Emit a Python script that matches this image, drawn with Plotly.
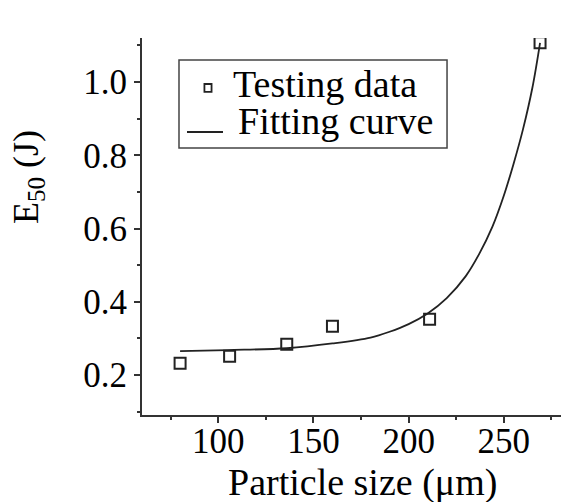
import plotly.graph_objects as go

# Testing data
size_um = [80, 106, 136, 160, 211, 269]
e50_j = [0.232, 0.251, 0.284, 0.333, 0.352, 1.107]

# Fitting curve points
fit_x = [80, 105, 136, 160, 180, 190, 200, 210, 220, 230, 237, 244, 250, 255, 260, 265, 269]
fit_y = [0.265, 0.268, 0.273, 0.286, 0.302, 0.318, 0.339, 0.368, 0.410, 0.470, 0.530, 0.605, 0.690, 0.775, 0.870, 0.985, 1.107]

x_ticks = [100, 150, 200, 250]
y_ticks = [0.2, 0.4, 0.6, 0.8, 1.0]

FONT = "Liberation Serif, Times New Roman, serif"
INK = "#222222"

fig = go.Figure()
fig.add_trace(go.Scatter(
    x=fit_x, y=fit_y, mode="lines", name="Fitting curve",
    line=dict(color=INK, width=1.8, shape="spline", smoothing=1.0),
))
fig.add_trace(go.Scatter(
    x=size_um, y=e50_j, mode="markers", name="Testing data",
    marker=dict(symbol="square-open", size=11, color=INK, line=dict(width=2, color=INK)),
))

# manual legend (box, symbols, labels) in paper coordinates
shapes = [
    dict(type="rect", xref="paper", yref="paper", x0=0.0883, x1=0.728, y0=0.708, y1=0.9416,
         line=dict(color="#444444", width=1.5), fillcolor="white", layer="below"),
    dict(type="rect", xref="paper", yref="paper", x0=0.149, x1=0.166, y0=0.857, y1=0.878,
         line=dict(color=INK, width=1.8)),
    dict(type="line", xref="paper", yref="paper", x0=0.1074, x1=0.1933, y0=0.7507, y1=0.7507,
         line=dict(color=INK, width=1.8)),
]

fig.update_layout(
    width=561, height=502,
    margin=dict(l=142, r=0, t=38, b=87),
    plot_bgcolor="white", paper_bgcolor="white",
    font=dict(family=FONT, size=35, color="black"),
    showlegend=False,
    shapes=shapes,
    xaxis=dict(
        range=[60, 280], tickvals=x_ticks, ticktext=[str(v) for v in x_ticks],
        showgrid=False, zeroline=False, showline=True, linecolor="#333333", linewidth=2,
        ticks="outside", ticklen=6, tickwidth=1.5, tickcolor="#333333",
        minor=dict(tickvals=[75, 125, 175, 225, 275], ticks="outside", ticklen=3, tickwidth=1.5, tickcolor="#333333"),
        tickfont=dict(family=FONT, size=35, color="black"),
        ticklabelstandoff=-12,
    ),
    yaxis=dict(
        range=[0.0907, 1.1202], tickvals=y_ticks, ticktext=[f"{v:.1f}" for v in y_ticks],
        showgrid=False, zeroline=False, showline=True, linecolor="#333333", linewidth=2,
        ticks="outside", ticklen=6, tickwidth=1.5, tickcolor="#333333",
        minor=dict(tickvals=[0.1, 0.3, 0.5, 0.7, 0.9, 1.1], ticks="outside", ticklen=3, tickwidth=1.5, tickcolor="#333333"),
        tickfont=dict(family=FONT, size=35, color="black"),
    ),
    annotations=[
        dict(text="E<sub>50</sub> (J)", xref="paper", yref="paper", x=0, xshift=-114,
             y=0.631, xanchor="center", yanchor="middle", textangle=-90, showarrow=False,
             font=dict(family=FONT, size=36, color="black")),
        dict(text="Particle size (\u03bcm)", xref="paper", yref="paper", x=0.527, y=-0.18,
             xanchor="center", yanchor="middle", showarrow=False,
             font=dict(family=FONT, size=38, color="black")),
        dict(text="Testing data", xref="paper", yref="paper", x=0.212, y=0.8714,
             xanchor="left", yanchor="middle", showarrow=False, height=37, valign="bottom",
             font=dict(family=FONT, size=38, color="black")),
        dict(text="Fitting curve", xref="paper", yref="paper", x=0.224, y=0.7734,
             xanchor="left", yanchor="middle", showarrow=False, height=37, valign="bottom",
             font=dict(family=FONT, size=38, color="black")),
    ],
)

fig.write_html("out.html")
